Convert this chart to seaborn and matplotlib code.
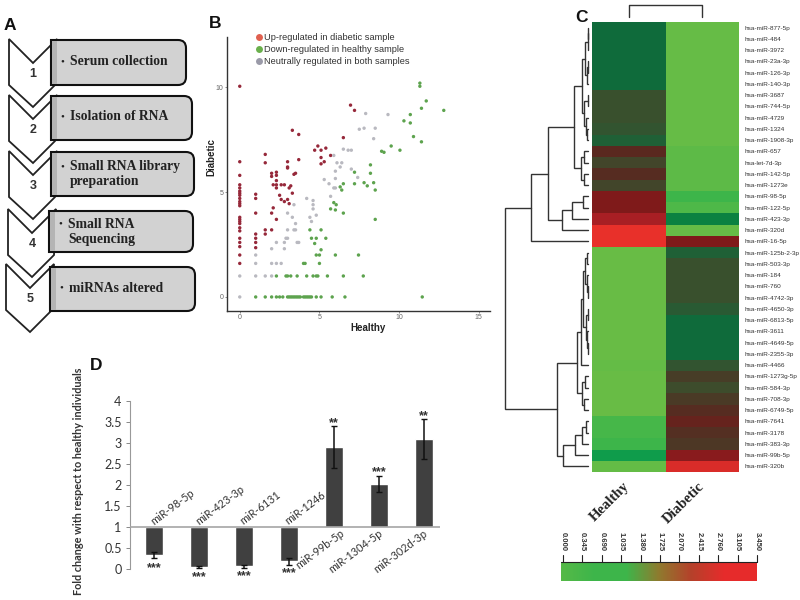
import numpy as np
import pandas as pd
import seaborn as sns
import matplotlib.pyplot as plt
from matplotlib.colors import LinearSegmentedColormap
from matplotlib.lines import Line2D
from matplotlib.patches import PathPatch, Polygon
from matplotlib.path import Path

# panel A
step_labels = [["Serum collection"], ["Isolation of RNA"], ["Small RNA library", "preparation"],
               ["Small RNA", "Sequencing"], ["miRNAs altered"]]

# panel B
up_x = [0]*23 + [1]*7 + [1.6]*4 + [2, 2, 2.1, 2, 2, 2.3, 2.3, 2.3, 2.1, 2.3, 2.3, 2.6, 2.8, 3.1, 3.2, 2.5, 2.6, 2.8, 3, 3.1, 3.3, 2.3,
        3, 3, 3, 3.4, 3.5, 3.7, 3.3, 3.7, 4.7, 4.9, 5.1, 5.4, 5.1, 5.1, 5.3, 5.7, 6.5, 6.95, 7.2]
up_y = [10.05, 6.45, 5.8, 5.35, 5.2, 5.05, 4.95, 4.85, 4.7, 4.55, 4.45, 4.35, 3.8, 3.7, 3.6, 3.5, 3.3, 3.15, 2.8, 2.6, 2.4, 2.0, 1.6,
        4.9, 4.7, 4.0, 3.0, 2.8, 2.6, 2.35, 6.8, 6.4, 3.2, 3.0,
        5.9, 5.75, 4.25, 4.0, 3.2, 5.95, 5.8, 5.55, 5.35, 5.35, 5.2, 5.35, 5.35, 5.2, 5.3, 4.85, 4.65, 4.55, 4.65, 4.45, 4.95, 3.7,
        6.45, 6.2, 6.15, 5.85, 5.9, 6.55, 7.95, 7.75, 7.0, 7.2, 7.0, 7.1, 6.65, 6.35, 6.45, 6.75, 7.6, 9.15, 8.9]
down_x = [11.3, 11.3, 11.7, 11.4, 10.7, 10.3, 10.7, 10.9, 11.4, 9.5, 10.05, 8.9, 9.05, 8.2, 8.2, 7.2, 7.2, 7.8, 8.0, 8.4, 8.5,
          6.3, 6.4, 6.5, 5.9, 6.05, 5.7, 6.0, 6.5, 8.5, 4.4, 5.1, 4.5, 4.8, 5.4, 4.7, 5.1, 4.8, 5, 6, 7.45, 4.0, 4.1, 5.0, 12.8,
          2.3, 2.9, 3.0, 3.2, 3.6, 4.2, 4.6, 4.8, 4.9, 5.5, 6.5, 7.75,
          1, 1.6, 2, 2.3, 2.5, 2.7, 3, 3.1, 3.2, 3.3, 3.4, 3.5, 3.6, 3.7, 3.8, 4, 4.1, 4.2, 4.3, 4.4, 4.5, 4.8, 5.1, 5.8, 6.6, 11.45]
down_y = [10.2, 10.05, 9.35, 9.0, 8.7, 8.4, 8.3, 7.65, 7.4, 7.2, 7.0, 6.95, 6.9, 6.3, 5.9, 5.95, 5.4, 5.45, 5.3, 5.45, 5.1,
          5.25, 5.1, 5.4, 4.5, 4.4, 4.2, 4.15, 4.0, 3.7, 3.2, 3.2, 2.8, 2.8, 2.8, 2.55, 2.25, 2.0, 2.0, 2.0, 2.0, 1.6, 1.6, 1.6, 8.9,
          1, 1, 1, 1, 1, 1, 1, 1, 1, 1, 1, 1,
          0, 0, 0, 0, 0, 0, 0, 0, 0, 0, 0, 0, 0, 0, 0, 0, 0, 0, 0, 0, 0, 0, 0, 0, 0, 0]
neutral_x = [0, 0, 1, 1, 1, 1.6, 2, 2, 2.3, 2.6, 2, 2.3, 2.8, 2.8, 2.9, 3, 3, 3.4, 3.5, 3.6, 3.7, 3, 3.3, 3.5, 3.4, 4.2, 4.6, 4.6, 4.6,
             4.4, 4.5, 4.8, 5.3, 5.6, 5.7, 5.9, 6, 6, 6, 6.1, 6.3, 6.4, 6.5, 6.8, 7, 7, 7.4, 7.5, 7.8, 7.9, 8.5, 8.4, 9.3, 5.9]
neutral_y = [1, 0, 1, 1.6, 2, 1, 1, 1.6, 1.6, 1.6, 2.3, 2.6, 2.3, 2.6, 2.8, 2.8, 3.2, 3.2, 3.2, 2.6, 2.6, 4, 3.8, 3.5, 4.4, 4.7, 4.6, 4.4, 4.2,
             3.8, 3.6, 3.9, 5.6, 5.4, 4.8, 5.2, 5.2, 5.65, 6, 6.4, 6.2, 6.4, 7.05, 7, 7, 6.1, 5.7, 8, 8.05, 8.75, 8.05, 7.55, 8.7, 6.75]

# panel C
mirna_labels = ["hsa-miR-877-5p", "hsa-miR-484", "hsa-miR-3972", "hsa-miR-23a-3p", "hsa-miR-126-3p", "hsa-miR-140-3p",
                "hsa-miR-3687", "hsa-miR-744-5p", "hsa-miR-4729", "hsa-miR-1324", "hsa-miR-1908-3p", "hsa-miR-657",
                "hsa-let-7d-3p", "hsa-miR-142-5p", "hsa-miR-1273e", "hsa-miR-98-5p", "hsa-miR-122-5p", "hsa-miR-423-3p",
                "hsa-miR-320d", "hsa-miR-16-5p", "hsa-miR-125b-2-3p", "hsa-miR-503-3p", "hsa-miR-184", "hsa-miR-760",
                "hsa-miR-4742-3p", "hsa-miR-4650-3p", "hsa-miR-6813-5p", "hsa-miR-3611", "hsa-miR-4649-5p", "hsa-miR-2355-3p",
                "hsa-miR-4466", "hsa-miR-1273g-5p", "hsa-miR-584-3p", "hsa-miR-708-3p", "hsa-miR-6749-5p", "hsa-miR-7641",
                "hsa-miR-3178", "hsa-miR-383-3p", "hsa-miR-99b-5p", "hsa-miR-320b"]
healthy_vals = [1.0]*6 + [1.25, 1.25, 1.25, 1.2, 1.1, 1.8, 1.4, 1.75, 1.4, 2.4, 2.4, 2.8, 3.45, 3.45] + \
               [0.03]*10 + [0.06, 0.03, 0.03, 0.03, 0.03, 0.25, 0.25, 0.3, 0.6, 0.06]
diabetic_vals = [0.05]*11 + [0.1]*4 + [0.3, 0.2, 0.8, 0.05, 2.4] + \
                [1.1, 1.25, 1.25, 1.25, 1.25, 1.15, 1.0, 1.0, 1.0, 1.0, 1.2, 1.5, 1.3, 1.55, 1.75, 2.0, 1.7, 1.6, 2.5, 3.3]
scale_ticks = ["0.000", "0.345", "0.690", "1.035", "1.380", "1.725", "2.070", "2.415", "2.760", "3.105", "3.450"]

# panel D
bar_names = ["miR-98-5p", "miR-423-3p", "miR-6131", "miR-1246", "miR-99b-5p", "miR-1304-5p", "miR-302d-3p"]
fold_change = [0.33, 0.05, 0.06, 0.18, 2.9, 2.03, 3.1]
fold_err = [0.07, 0.03, 0.03, 0.09, 0.5, 0.19, 0.47]
signif = ["***", "***", "***", "***", "**", "***", "**"]
signif_y = [0.03, -0.2, -0.17, -0.1, 3.47, 2.3, 3.63]
label_shift = [0.02, 0.02, 0.02, 0.02, 0.13, -0.02, -0.02]


def axes_px(x0, y0, x1, y1):
    return fig.add_axes([x0/800, 1 - y1/600, (x1 - x0)/800, (y1 - y0)/600])


def draw_tree(node):
    # node is a row number or [line x, child, child]; returns where the branch starts
    if not isinstance(node, list):
        return 588.0, 22 + (node + 0.5)*row_h
    xa, ya = draw_tree(node[1])
    xb, yb = draw_tree(node[2])
    overlay.plot([xa, node[0], node[0], xb], [ya, ya, yb, yb], color="#333333", lw=1.0, solid_joinstyle="miter")
    return node[0], (ya + yb)/2


sns.set_style("white")
plt.rcParams["font.family"] = ["Liberation Sans", "DejaVu Sans"]

fig = plt.figure(figsize=(8, 6), dpi=100)
overlay = fig.add_axes([0, 0, 1, 1], zorder=5)
overlay.set_xlim(0, 800)
overlay.set_ylim(600, 0)
overlay.axis("off")
overlay.patch.set_alpha(0)

# A: workflow chevrons
chev_left = [9, 9, 9, 8, 6]
chev_top = [39, 95, 151, 209, 264]
box_geom = [(51, 186, 40, 85), (51, 192, 96, 140), (51, 194, 152, 196), (49, 193, 211, 252), (50, 195, 267, 311)]
for i, labels in enumerate(step_labels):
    x, y = chev_left[i], chev_top[i]
    overlay.add_patch(Polygon([(x, y), (x + 24, y + 24), (x + 48, y), (x + 46, y + 46), (x + 24, y + 68), (x, y + 46)],
                              closed=True, fc="white", ec="#222222", lw=1.3))
    overlay.text(x + 24, y + 35, str(i + 1), ha="center", va="center", fontsize=9, fontweight="bold", color="#333333")
    x0, x1, y0, y1 = box_geom[i]
    r = 8
    verts = [(x0, y0), (x1 - r, y0), (x1, y0), (x1, y0 + r), (x1, y1 - r), (x1, y1), (x1 - r, y1), (x0, y1), (x0, y0)]
    codes = [Path.MOVETO, Path.LINETO, Path.CURVE3, Path.CURVE3, Path.LINETO, Path.CURVE3, Path.CURVE3, Path.LINETO, Path.CLOSEPOLY]
    overlay.add_patch(PathPatch(Path(verts, codes), fc="#d2d2d2", ec="#111111", lw=1.5))
    overlay.fill_between([x0 + 1, x0 + 6], y0 + 1, y1 - 1, color="#b4b4b4", lw=0)
    ymid = (y0 + y1)/2
    if len(labels) == 1:
        ytext = [ymid - 1]
    else:
        ytext = [ymid - 7.5, ymid + 8]
    overlay.text(x0 + 11, ytext[0], "\u2022", ha="center", va="center", fontsize=8, family="Liberation Serif", color="#222222")
    for t, yy in zip(labels, ytext):
        overlay.text(x0 + 19, yy, t, ha="left", va="center", fontsize=9.8, fontweight="bold",
                     family="Liberation Serif", color="#222222")

for letter, lx, ly in [("A", 10, 25), ("B", 215, 24), ("C", 582, 18), ("D", 96, 365)]:
    overlay.text(lx, ly, letter, ha="center", va="center", fontsize=12.5, fontweight="bold", color="#111111")

# B: scatter
scatter_df = pd.DataFrame({
    "Healthy": up_x + down_x + neutral_x,
    "Diabetic": up_y + down_y + neutral_y,
    "group": ["up"]*len(up_x) + ["down"]*len(down_x) + ["neutral"]*len(neutral_x),
})
ax_b = axes_px(227, 37, 490, 311)
sns.scatterplot(data=scatter_df, x="Healthy", y="Diabetic", hue="group", s=6, linewidth=0, legend=False, ax=ax_b,
                palette={"up": "#96283a", "down": "#5da34e", "neutral": "#b9b9c0"})
ax_b.set_xlim(-0.8, 15.7)
ax_b.set_ylim(-0.67, 12.4)
ax_b.set_xticks([0, 5, 10, 15])
ax_b.set_yticks([0, 5, 10])
ax_b.tick_params(labelsize=5, colors="#666666", length=1.5, width=0.5, left=True, bottom=True, pad=1)
ax_b.set_xlabel("Healthy", fontsize=7, fontweight="bold", color="#222222")
ax_b.set_ylabel("Diabetic", fontsize=7, fontweight="bold", color="#222222")
ax_b.xaxis.set_label_coords(0.536, -0.044)
ax_b.yaxis.set_label_coords(-0.042, 0.56)
sns.despine(ax=ax_b)
for side in ["left", "bottom"]:
    ax_b.spines[side].set_linewidth(1.0)
    ax_b.spines[side].set_color("#333333")
handles = [Line2D([], [], ls="", marker="o", ms=5, mec="none", color=c) for c in ["#e0604f", "#6ab04c", "#9a9aa8"]]
ax_b.legend(handles, ["Up-regulated in diabetic sample", "Down-regulated in healthy sample",
                      "Neutrally regulated in both samples"],
            loc="upper left", bbox_to_anchor=(0.085, 1.03), frameon=False, fontsize=6.7, labelspacing=0.3,
            handlelength=1.0, handletextpad=0.1, borderpad=0, labelcolor="#333333")

# C: heatmap
heat_stops = [(0, "#6cbd45"), (0.3, "#3db54a"), (0.6, "#0e9c4b"), (0.85, "#0a7a3e"), (1.0, "#0f6b3b"), (1.25, "#3a4f2d"),
              (1.55, "#4a3a26"), (1.8, "#5a281f"), (2.4, "#7e1a1a"), (2.8, "#a81f24"), (3.45, "#e8302a")]
heat_cmap = LinearSegmentedColormap.from_list("heat", [(v/3.45, c) for v, c in heat_stops])
heat_df = pd.DataFrame({"Healthy": healthy_vals, "Diabetic": diabetic_vals}, index=mirna_labels)
ax_c = axes_px(592, 22, 739, 472)
sns.heatmap(heat_df, cmap=heat_cmap, vmin=0, vmax=3.45, cbar=False, ax=ax_c, yticklabels=True)
ax_c.yaxis.tick_right()
ax_c.tick_params(axis="y", length=0, labelsize=4.6, labelcolor="#333333", labelrotation=0, pad=4)
ax_c.set_xticks([])
ax_c.set_xlabel("")
overlay.text(610, 502, "Healthy", rotation=45, ha="center", va="center", fontsize=10.5, fontweight="bold", family="Liberation Serif", color="#222222")
overlay.text(684, 503, "Diabetic", rotation=45, ha="center", va="center", fontsize=10.5, fontweight="bold", family="Liberation Serif", color="#222222")

# dendrograms
row_h = 450/40
top_rows = [574, [582, [585, [587.5, [588, 0, 1], 2], [587, [588, 3, 4], 5]],
                  [584, [588, 6, 7], [586, 8, [587, 9, 10]]]],
            [581, [584, 11, 12], [584, 13, 14]]]
bottom_rows = [557, [577, [581, [583, [585, [587, 20, 21], [587, 22, [587.5, 23, 24]]],
                                 [586, [587.5, 25, 26], [587, 27, [587.5, 28, 29]]]], 30],
                     [582, [585, 31, 32], [584, 33, 34]]],
               [563, [575, [582, [586, 35, 36], 37], 38], 39]]
tree = [505, [531, [548, top_rows, [562, [572, [583, 15, 16], 17], 18]], 19], bottom_rows]
draw_tree(tree)
overlay.plot([629, 629, 702, 702], [17, 5, 5, 17], color="#333333", lw=1.0)

# colour scale
scale_cmap = LinearSegmentedColormap.from_list("scale", ["#55b947", "#3db54a", "#3db54a", "#8f7a2e", "#b5402a", "#e62b2b", "#e62b2b"])
ax_s = axes_px(561, 562, 757, 581)
sns.heatmap(np.linspace(0, 1, 256).reshape(1, -1), cmap=scale_cmap, cbar=False, ax=ax_s, xticklabels=False, yticklabels=False)
for i, t in enumerate(scale_ticks):
    tx = 563 + i*19.4
    overlay.plot([tx, tx], [555, 562], color="#222222", lw=0.8)
    overlay.text(tx, 551, t, rotation=-90, ha="center", va="bottom", fontsize=5.5, fontweight="bold", color="#333333")
overlay.plot([561, 757], [562, 562], color="#222222", lw=0.8)

# D: bars around the healthy level of 1
bar_df = pd.DataFrame({"name": bar_names, "change": [v - 1 for v in fold_change]})
ax_d = axes_px(130, 401, 440, 569)
sns.barplot(data=bar_df, x="name", y="change", bottom=1, color="#404040", saturation=1, width=0.4, errorbar=None, ax=ax_d)
ax_d.errorbar(range(len(bar_names)), fold_change, yerr=fold_err, fmt="none", ecolor="#111111", elinewidth=1.1, capsize=2.5, capthick=1.0)
ax_d.axhline(1, color="#a5a5a5", lw=1.2, zorder=3)
ax_d.set_xlim(-0.533, 6.36)
ax_d.set_ylim(0, 4)
ax_d.set_yticks([0, 0.5, 1, 1.5, 2, 2.5, 3, 3.5, 4], ["0", "0.5", "1", "1.5", "2", "2.5", "3", "3.5", "4"])
ax_d.set_xticks([])
ax_d.set_xlabel("")
ax_d.set_ylabel("")
ax_d.tick_params(axis="y", left=True, length=3, width=0.7, color="#888888", labelsize=9, labelcolor="#333333", pad=3)
for lbl in ax_d.get_yticklabels():
    lbl.set_family("Lato")
sns.despine(ax=ax_d, bottom=True)
ax_d.spines["left"].set_color("#999999")
overlay.text(79, 481, "Fold change with respect to healthy individuals", rotation=90, ha="center", va="center",
             fontsize=7.8, fontweight="bold", family="Lato", color="#333333")
for i, name in enumerate(bar_names):
    if fold_change[i] < 1:
        ax_d.text(i + label_shift[i], 1.0, name, rotation=37, rotation_mode="anchor", ha="left", va="bottom",
                  fontsize=7.8, family="Lato", color="#333333")
    else:
        ax_d.text(i + label_shift[i], 0.98, name, rotation=37, rotation_mode="anchor", ha="right", va="top",
                  fontsize=7.8, family="Lato", color="#333333")
    ax_d.text(i, signif_y[i], signif[i], ha="center", va="center", fontsize=9, fontweight="bold", color="#333333",
              clip_on=False, zorder=6)

fig.savefig("out.png", dpi=100)
plt.close()
